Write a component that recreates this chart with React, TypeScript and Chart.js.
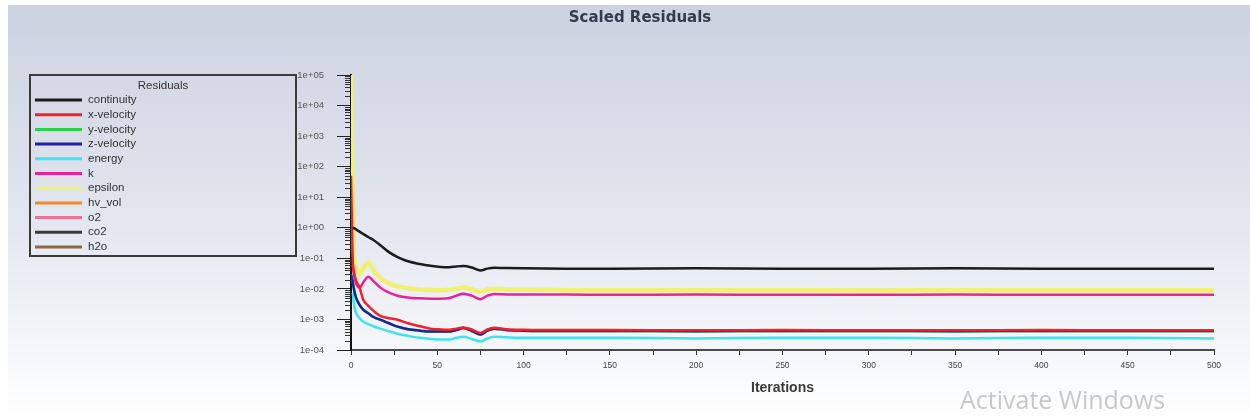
import { useEffect, useRef } from 'react';
import { Chart, registerables } from 'chart.js';

Chart.register(...registerables);

// ---- data ----
const ITERATIONS = [0, 1, 2, 3, 5, 7, 10, 13, 17, 22, 27, 33, 40, 46, 52, 57, 61, 65, 70, 75, 79, 83, 90, 100, 125, 150, 200, 250, 300, 350, 400, 450, 500];

const CONTINUITY = [null, 1.0, 0.95, 0.88, 0.75, 0.63, 0.5, 0.4, 0.27, 0.16, 0.11, 0.08, 0.065, 0.057, 0.052, 0.051, 0.054, 0.056, 0.05, 0.04, 0.046, 0.049, 0.048, 0.047, 0.046, 0.046, 0.047, 0.046, 0.046, 0.047, 0.046, 0.046, 0.046];
const X_VELOCITY = [50, 0.09, 0.03, 0.018, 0.011, 0.0045, 0.0028, 0.0019, 0.0013, 0.0011, 0.00098, 0.00075, 0.0006, 0.0005, 0.00047, 0.00046, 0.0005, 0.00055, 0.00047, 0.00036, 0.00047, 0.00053, 0.00048, 0.00046, 0.00045, 0.00045, 0.00044, 0.00045, 0.00044, 0.00044, 0.00045, 0.00044, 0.00044];
const Y_VELOCITY = [0.03, 0.017, 0.008, 0.005, 0.003, 0.0021, 0.0016, 0.0012, 0.00098, 0.00075, 0.00058, 0.00048, 0.00043, 0.0004, 0.0004, 0.0004, 0.00045, 0.00052, 0.00042, 0.00032, 0.00043, 0.0005, 0.00045, 0.00043, 0.00042, 0.00042, 0.00041, 0.00042, 0.00042, 0.00041, 0.00042, 0.00042, 0.00042];
const Z_VELOCITY = [0.03, 0.017, 0.008, 0.005, 0.003, 0.0021, 0.0016, 0.0012, 0.00098, 0.00075, 0.00058, 0.00048, 0.00043, 0.0004, 0.0004, 0.0004, 0.00045, 0.00052, 0.00042, 0.00032, 0.00043, 0.0005, 0.00045, 0.00043, 0.00042, 0.00042, 0.00041, 0.00042, 0.00042, 0.00041, 0.00042, 0.00042, 0.00042];
const ENERGY = [null, 0.0075, 0.0025, 0.0016, 0.0011, 0.00085, 0.0007, 0.0006, 0.0005, 0.00041, 0.00034, 0.00029, 0.00025, 0.00023, 0.00022, 0.00022, 0.00025, 0.00027, 0.00023, 0.00019, 0.00024, 0.00027, 0.00026, 0.00025, 0.00025, 0.00025, 0.00024, 0.00025, 0.00025, 0.00024, 0.00025, 0.00025, 0.00024];
const K = [null, 0.06, 0.025, 0.015, 0.011, 0.016, 0.025, 0.018, 0.011, 0.0075, 0.006, 0.0052, 0.0049, 0.0048, 0.0048, 0.005, 0.006, 0.0069, 0.006, 0.0046, 0.006, 0.0068, 0.0066, 0.0065, 0.0065, 0.0064, 0.0065, 0.0064, 0.0064, 0.0065, 0.0064, 0.0064, 0.0064];
const EPSILON = [100000, 5, 0.08, 0.05, 0.03, 0.045, 0.075, 0.04, 0.022, 0.015, 0.012, 0.0105, 0.0096, 0.0092, 0.0091, 0.0093, 0.0102, 0.0112, 0.0097, 0.008, 0.0097, 0.0102, 0.0096, 0.0093, 0.0091, 0.009, 0.0091, 0.009, 0.0089, 0.0091, 0.009, 0.009, 0.009];
// listed in the legend only, no visible curve in the reference
const HV_VOL: (number | null)[] = [];
const O2: (number | null)[] = [];
const CO2: (number | null)[] = [];
const H2O: (number | null)[] = [];

const SERIES_NAMES = ['continuity', 'x-velocity', 'y-velocity', 'z-velocity', 'energy', 'k', 'epsilon', 'hv_vol', 'o2', 'co2', 'h2o'];
const SERIES_VALUES = [CONTINUITY, X_VELOCITY, Y_VELOCITY, Z_VELOCITY, ENERGY, K, EPSILON, HV_VOL, O2, CO2, H2O];
const SERIES_COLORS = ['#1c1c1c', '#f0202c', '#2ad24a', '#1e22a0', '#3ce4f0', '#ee1f9a', '#f2f070', '#f08a2a', '#f0709a', '#3a3a3a', '#8a6a4a'];

const Y_DECADES = [1e-4, 1e-3, 1e-2, 1e-1, 1e0, 1e1, 1e2, 1e3, 1e4, 1e5];
const Y_DECADE_LABELS = ['1e-04', '1e-03', '1e-02', '1e-01', '1e+00', '1e+01', '1e+02', '1e+03', '1e+04', '1e+05'];
const Y_MINOR_FACTORS = [2, 3, 4, 5, 6, 7, 8, 9];
const X_MAJOR_TICKS = [0, 50, 100, 150, 200, 250, 300, 350, 400, 450, 500];
const X_MINOR_TICKS = [25, 75, 125, 175, 225, 275, 325, 375, 425, 475];

const backgroundPlugin = {
  id: 'bg',
  beforeDraw(chart: any) {
    const { ctx, width, height } = chart;
    ctx.save();
    ctx.fillStyle = '#ffffff';
    ctx.fillRect(0, 0, width, height);
    const g = ctx.createLinearGradient(0, 5, 0, height);
    g.addColorStop(0, '#cbd2e0');
    g.addColorStop(0.5, '#e1e5ee');
    g.addColorStop(1, '#ffffff');
    ctx.fillStyle = g;
    ctx.fillRect(8, 5, width - 8, height - 5);
    ctx.restore();
  },
};

const decorPlugin = {
  id: 'decor',
  afterDraw(chart: any) {
    const { ctx } = chart;
    const y = chart.scales.y;
    const left = chart.chartArea.left;
    ctx.save();
    // minor y ticks
    ctx.strokeStyle = '#333';
    ctx.lineWidth = 1;
    y.ticks.forEach((t: any) => {
      if (t.major) return;
      const py = Math.round(y.getPixelForValue(t.value)) + 0.5;
      ctx.beginPath();
      ctx.moveTo(left - 6, py);
      ctx.lineTo(left, py);
      ctx.stroke();
    });
    // legend box
    const bx = 30, by = 75, bw = 266, bh = 181;
    ctx.strokeStyle = '#3a3a3a';
    ctx.lineWidth = 2;
    ctx.strokeRect(bx, by, bw, bh);
    ctx.fillStyle = '#333';
    ctx.font = '11.5px "Liberation Sans"';
    ctx.textAlign = 'center';
    ctx.textBaseline = 'middle';
    ctx.fillText('Residuals', bx + bw / 2, 86);
    ctx.textAlign = 'left';
    chart.data.datasets.forEach((ds: any, i: number) => {
      const ly = 100 + i * 14.7;
      ctx.strokeStyle = ds.borderColor;
      ctx.lineWidth = 3;
      ctx.beginPath();
      ctx.moveTo(35, ly);
      ctx.lineTo(82, ly);
      ctx.stroke();
      ctx.fillStyle = '#333';
      ctx.fillText(ds.label, 88, ly);
    });
    // screenshot watermark
    ctx.fillStyle = '#c6c8cc';
    ctx.font = '25px "Open Sans"';
    ctx.textBaseline = 'middle';
    ctx.fillText('Activate Windows', 960, 402);
    ctx.restore();
  },
};

export default function App() {
  const ref = useRef<HTMLCanvasElement>(null);
  useEffect(() => {
    document.body.style.margin = '0';
    const datasets = SERIES_NAMES.map((name, i) => ({
      label: name,
      data: SERIES_VALUES[i].map((v, j) => ({ x: ITERATIONS[j], y: v })),
      borderColor: SERIES_COLORS[i],
      backgroundColor: SERIES_COLORS[i],
      borderWidth: name === 'epsilon' ? 4.5 : 2.5,
      pointRadius: 0,
      cubicInterpolationMode: 'monotone' as const,
      spanGaps: true,
      order: name === 'y-velocity' ? 10 : 0,
    }));
    const chart = new Chart(ref.current!, {
      type: 'line',
      data: { datasets },
      options: {
        responsive: false,
        animation: false,
        events: [],
        layout: { padding: { left: 66, right: 36, top: 0, bottom: 0 } },
        plugins: {
          legend: { display: false },
          tooltip: { enabled: false },
          title: {
            display: true,
            text: 'Scaled Residuals',
            color: '#343b4c',
            font: { family: 'DejaVu Sans', size: 15, weight: 'bold', lineHeight: 1.2 },
            padding: { top: 9, bottom: 48 },
          },
        },
        scales: {
          x: {
            type: 'linear',
            min: 0,
            max: 500,
            afterBuildTicks: (s: any) => {
              s.ticks = [...X_MAJOR_TICKS, ...X_MINOR_TICKS].sort((a, b) => a - b).map((v) => ({ value: v, major: X_MAJOR_TICKS.includes(v) }));
            },
            afterFit: (s: any) => { s.height = 67; },
            grid: { drawOnChartArea: false, drawTicks: true, tickLength: 5, tickColor: '#333', tickWidth: 1 },
            border: { display: true, color: '#4a4a4a', width: 2 },
            ticks: {
              autoSkip: false,
              maxRotation: 0,
              color: '#444',
              padding: 6,
              font: { family: 'Liberation Sans', size: 8.5 },
              callback: (v: any) => (X_MAJOR_TICKS.includes(Number(v)) ? String(v) : ''),
            },
            title: {
              display: true,
              text: 'Iterations',
              color: '#3a3a3a',
              font: { family: 'Liberation Sans', size: 14, weight: 'bold', lineHeight: 1.2 },
              padding: { top: 0, bottom: 20 },
            },
          },
          y: {
            type: 'logarithmic',
            min: 1e-4,
            max: 1e5,
            afterBuildTicks: (s: any) => {
              const ticks: any[] = [];
              Y_DECADES.forEach((d, i) => {
                ticks.push({ value: d, major: true, label: Y_DECADE_LABELS[i] });
                if (i < Y_DECADES.length - 1) Y_MINOR_FACTORS.forEach((f) => ticks.push({ value: d * f, major: false }));
              });
              s.ticks = ticks;
            },
            afterFit: (s: any) => { s.width = 285; },
            grid: {
              drawOnChartArea: false,
              drawTicks: true,
              tickLength: 14,
              tickWidth: 1,
              tickColor: (c: any) => (c.tick && c.tick.major ? '#222' : 'rgba(0,0,0,0)'),
            },
            border: { display: true, color: '#111', width: 2 },
            ticks: {
              autoSkip: false,
              color: '#555',
              padding: 13,
              font: { family: 'Liberation Sans', size: 9.5 },
              callback: (v: any) => {
                const i = Y_DECADES.findIndex((d) => Math.abs(d - Number(v)) / d < 1e-6);
                return i >= 0 ? Y_DECADE_LABELS[i] : '';
              },
            },
          },
        },
      },
      plugins: [backgroundPlugin, decorPlugin],
    });
    return () => chart.destroy();
  }, []);
  return <canvas ref={ref} width={1250} height={417} style={{ display: 'block' }} />;
}
